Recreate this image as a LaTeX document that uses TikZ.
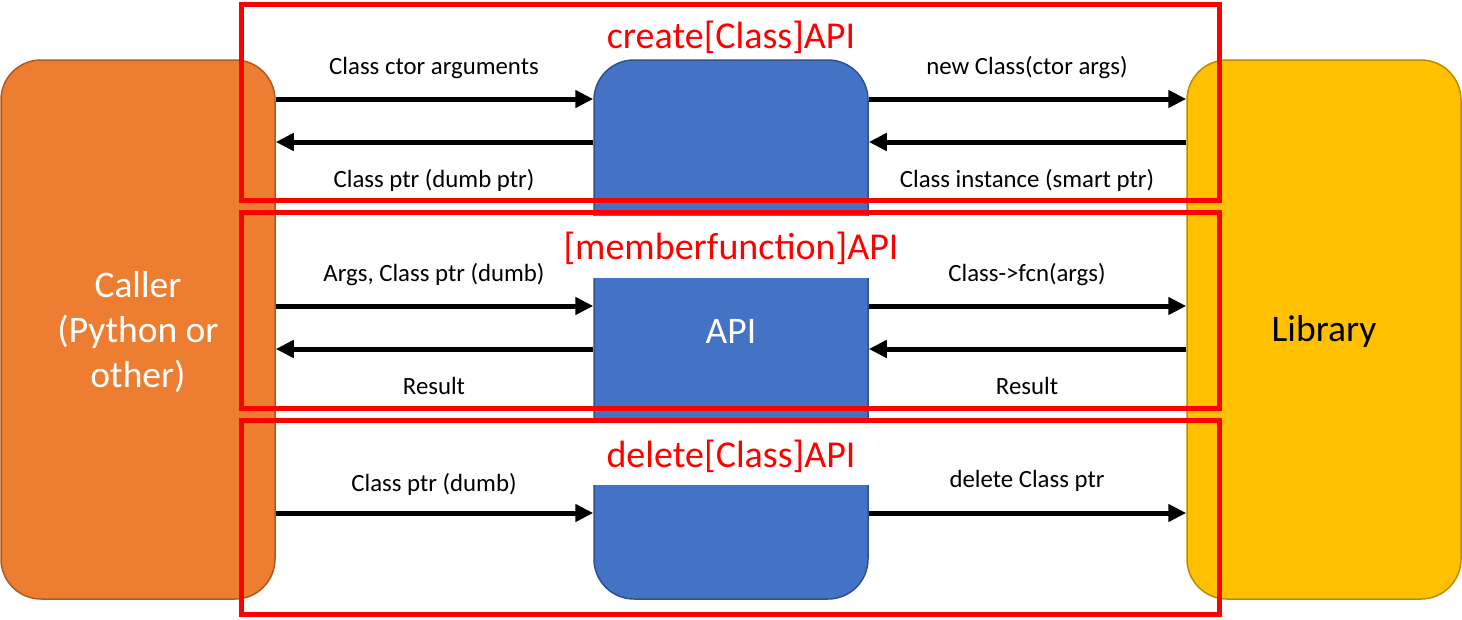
\documentclass[tikz,border=0pt]{standalone}
\usepackage{fontspec}
\setmainfont{Carlito}
\usetikzlibrary{arrows.meta}
\definecolor{corange}{HTML}{ED7D31}
\definecolor{corangeb}{HTML}{AE5A21}
\definecolor{cgold}{HTML}{FFC000}
\definecolor{cgoldb}{HTML}{BC8C00}
\definecolor{cblue}{HTML}{4472C4}
\definecolor{cblueb}{HTML}{2F528F}
\definecolor{cred}{HTML}{FF0000}
\begin{document}
\begin{tikzpicture}[x=1pt,y=-1pt,
  box/.style={rectangle, rounded corners=40pt, minimum width=274pt, minimum height=539pt, line width=1.5pt, inner sep=0pt, align=center},
  arr/.style={line width=5pt, -{Triangle[length=18pt,width=17pt]}},
  lbl/.style={font=\fontsize{24.8}{29}\selectfont, text=black, inner sep=0pt},
  big/.style={font=\fontsize{37.5}{45}\selectfont, align=center, inner sep=0pt},
  ttl/.style={font=\fontsize{38}{45}\selectfont, text=cred, inner sep=0pt},
  ttlbg/.style={fill=white, minimum width=278pt, minimum height=62pt},
  redframe/.style={draw=cred, line width=5pt}]
\useasboundingbox (0,0) rectangle (1462,619);
% boxes
\node[box, fill=corange, draw=corangeb] (caller) at (138,329.5) {};
\node[box, fill=cgold, draw=cgoldb] (lib) at (1324,329.5) {};
\node[box, fill=cblue, draw=cblueb] (api) at (731,329.5) {};
% text in boxes
\node[big, text=white] (callertxt) at (138,332) {Caller\\(Python or\\other)};
\node[big, text=black] (libtxt) at (1324,331) {Library};
\node[big, text=white] (apitxt) at (731,331) {API};
% white title backgrounds
\node[ttlbg] (mbg) at (731,247) {};
\node[ttlbg] (dbg) at (731,454) {};
% titles
\node[ttl] (t1) at (731,37) {create[Class]API};
\node[ttl] (t2) at (731,248) {[memberfunction]API};
\node[ttl] (t3) at (731,456) {delete[Class]API};
% arrows section 1
\draw[arr] (caller.east |- 0,99) -- (api.west |- 0,99);
\draw[arr] (api.west |- 0,142) -- (caller.east |- 0,142);
\draw[arr] (api.east |- 0,99) -- (lib.west |- 0,99);
\draw[arr] (lib.west |- 0,142) -- (api.east |- 0,142);
% arrows section 2
\draw[arr] (caller.east |- 0,306) -- (api.west |- 0,306);
\draw[arr] (api.west |- 0,349) -- (caller.east |- 0,349);
\draw[arr] (api.east |- 0,306) -- (lib.west |- 0,306);
\draw[arr] (lib.west |- 0,349) -- (api.east |- 0,349);
% arrows section 3
\draw[arr] (caller.east |- 0,513) -- (api.west |- 0,513);
\draw[arr] (api.east |- 0,513) -- (lib.west |- 0,513);
% labels
\node[lbl] (l1) at (434,68) {Class ctor arguments};
\node[lbl] (l2) at (434,180) {Class ptr (dumb ptr)};
\node[lbl] (l3) at (1027,68) {new Class(ctor args)};
\node[lbl] (l4) at (1027,180) {Class instance (smart ptr)};
\node[lbl] (l5) at (434,275) {Args, Class ptr (dumb)};
\node[lbl] (l6) at (434,386) {Result};
\node[lbl] (l7) at (1027,275) {Class->fcn(args)};
\node[lbl] (l8) at (1027,386) {Result};
\node[lbl] (l9) at (434,484) {Class ptr (dumb)};
\node[lbl] (l10) at (1027,481) {delete Class ptr};
% red frames
\draw[redframe] (241,4) rectangle (1219,200);
\draw[redframe] (241,212) rectangle (1219,408);
\draw[redframe] (241,420) rectangle (1219,614);
\end{tikzpicture}
\end{document}
